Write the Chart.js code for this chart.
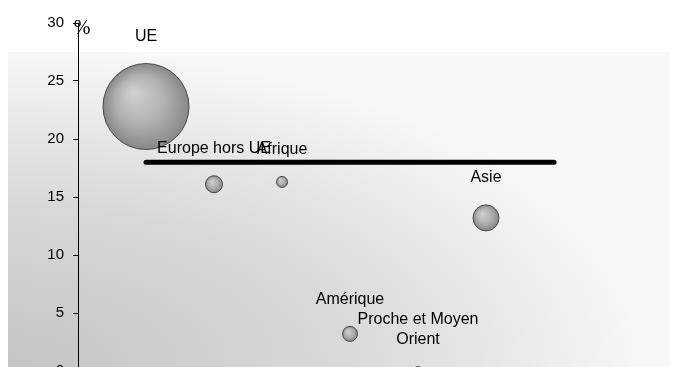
<!DOCTYPE html>
<html>
<head>
<meta charset="utf-8">
<script src="https://cdn.jsdelivr.net/npm/chart.js@4"></script>
<style>
  html, body { margin: 0; padding: 0; overflow: hidden; background: #fff; }
  #wrap { width: 682px; height: 390px; }
</style>
</head>
<body>
<div id="wrap"><canvas id="chart" width="682" height="390"></canvas></div>
<script>
// régions, position sur l'axe, part en %, taille de bulle
const regions = ['UE', 'Europe hors UE', 'Afrique', 'Amérique', 'Proche et Moyen\nOrient', 'Asie'];
const rang = [1, 2, 3, 4, 5, 6];
const parts = [22.8, 16.1, 16.3, 3.2, 0, 13.2];
const tailles = [43, 8.5, 5.5, 7.5, 4.5, 13];

const moyenne = 18;
const moyenneDebut = 1;
const moyenneFin = 7;

const yTicks = [0, 5, 10, 15, 20, 25, 30];

const bulles = regions.map((nom, i) => ({ x: rang[i], y: parts[i], r: tailles[i], nom: nom }));

function sphere(context) {
  const chart = context.chart;
  const raw = context.raw;
  if (!raw || !chart.scales.x) return '#aaa';
  const px = chart.scales.x.getPixelForValue(raw.x);
  const py = chart.scales.y.getPixelForValue(raw.y);
  if (!isFinite(px) || !isFinite(py)) return '#aaa';
  const r = raw.r;
  const g = chart.ctx.createRadialGradient(px - r * 0.3, py - r * 0.35, 0, px, py, r);
  g.addColorStop(0, '#d2d2d2');
  g.addColorStop(0.55, '#b2b2b2');
  g.addColorStop(1, '#888888');
  return g;
}

const fond = {
  id: 'fond',
  beforeDraw(chart) {
    const c = chart.ctx;
    const x0 = 8, y0 = 52, x1 = 670, y1 = chart.height;
    c.save();
    c.beginPath();
    c.rect(x0, y0, x1 - x0, y1 - y0);
    c.clip();
    c.fillStyle = '#f8f8f8';
    c.fillRect(x0, y0, x1 - x0, y1 - y0);
    c.translate(x0, 367);
    c.scale(650 / 320, 1);
    const g = c.createRadialGradient(0, 0, 0, 0, 0, 320);
    g.addColorStop(0, '#c4c4c4');
    g.addColorStop(0.5, '#d8d8d8');
    g.addColorStop(0.7, '#e4e4e4');
    g.addColorStop(1, '#f8f8f8');
    c.fillStyle = g;
    c.fillRect(-10, -400, 400, 420);
    c.restore();
  }
};

const etiquettes = {
  id: 'etiquettes',
  afterDatasetsDraw(chart) {
    const c = chart.ctx;
    const meta = chart.getDatasetMeta(0);
    c.save();
    c.font = '16px "Liberation Sans", Arial, sans-serif';
    c.fillStyle = '#000';
    c.textAlign = 'center';
    c.textBaseline = 'middle';
    meta.data.forEach((pt, i) => {
      const lignes = bulles[i].nom.split('\n');
      const bas = pt.y - bulles[i].r - 27;
      lignes.forEach((l, k) => {
        c.fillText(l, pt.x, bas - (lignes.length - 1 - k) * 20);
      });
    });
    c.font = '20px "Liberation Serif", "Times New Roman", serif';
    c.fillText('%', chart.chartArea.left + 4, 29);
    c.restore();
  }
};

const data = {
  datasets: [{
    type: 'bubble',
    label: 'régions',
    data: bulles,
    backgroundColor: sphere,
    borderColor: '#4a4a4a',
    borderWidth: 1,
    clip: false,
    order: 2
  }, {
    type: 'line',
    label: 'moyenne',
    data: [{ x: moyenneDebut, y: moyenne }, { x: moyenneFin, y: moyenne }],
    borderColor: '#000',
    borderWidth: 5,
    borderCapStyle: 'round',
    pointRadius: 0,
    fill: false,
    clip: false,
    order: 1
  }]
};

const options = {
  responsive: false,
  animation: false,
  events: [],
  layout: { autoPadding: false, padding: { top: 23, bottom: 19, right: 60, left: 0 } },
  plugins: {
    legend: { display: false },
    tooltip: { enabled: false },
    title: { display: false }
  },
  scales: {
    x: {
      type: 'linear',
      min: 0,
      max: 8,
      display: false
    },
    y: {
      type: 'linear',
      min: 0,
      max: 30,
      afterFit(scale) { scale.width = 78; },
      afterBuildTicks(scale) { scale.ticks = yTicks.map(v => ({ value: v })); },
      ticks: {
        color: '#000',
        padding: 9,
        font: { family: '"Liberation Sans", Arial, sans-serif', size: 15 }
      },
      grid: {
        drawOnChartArea: false,
        drawTicks: true,
        tickLength: 5,
        color: '#000'
      },
      border: { display: true, color: '#000', width: 1 }
    }
  }
};

const config = {
  type: 'bubble',
  data: data,
  options: options,
  plugins: [fond, etiquettes]
};

const ctx = document.getElementById('chart');
var myChart = new Chart(ctx, config);
</script>
</body>
</html>
